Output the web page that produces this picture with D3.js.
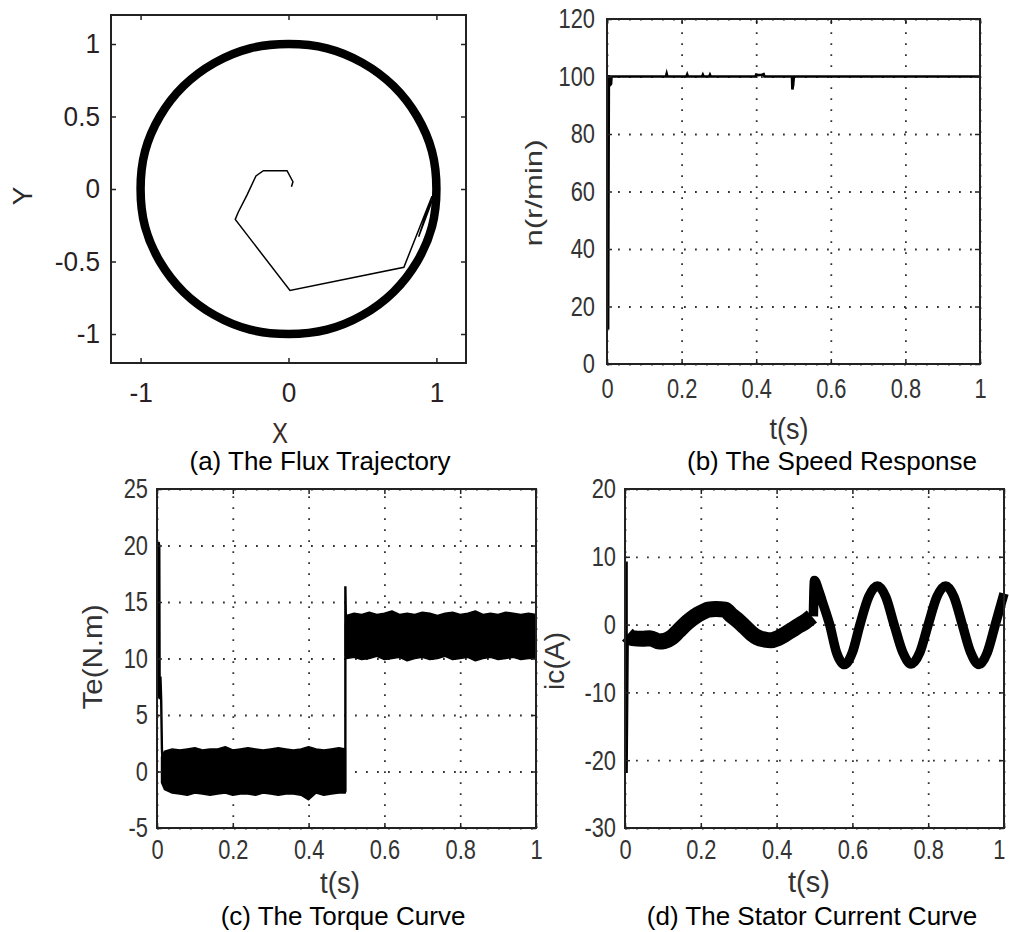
<!DOCTYPE html>
<html>
<head>
<meta charset="utf-8">
<script src="https://cdn.jsdelivr.net/npm/d3@7"></script>
<style>
  body { margin: 0; background: #fff; }
  svg { display: block; background: #fff; }
</style>
</head>
<body>
<svg id="chart"></svg>
<script>
// (a) flux trajectory
const fluxRingX = [1.00, 0.97, 0.87, 0.71, 0.50, 0.26, 0.00, -0.26, -0.50, -0.71, -0.87, -0.97,
                   -1.00, -0.97, -0.87, -0.71, -0.50, -0.26, 0.00, 0.26, 0.50, 0.71, 0.87, 0.97];
const fluxRingY = [0.00, 0.26, 0.50, 0.71, 0.87, 0.97, 1.00, 0.97, 0.87, 0.71, 0.50, 0.26,
                   0.00, -0.26, -0.50, -0.71, -0.87, -0.97, -1.00, -0.97, -0.87, -0.71, -0.50, -0.26];
const fluxStartX = [0.02, 0.03, -0.01, -0.17, -0.22, -0.28, -0.34, -0.36, 0.01, 0.78, 0.97, 0.88, 0.99];
const fluxStartY = [0.016, 0.05, 0.126, 0.126, 0.09, -0.04, -0.16, -0.21, -0.70, -0.54, -0.05, -0.33, -0.03];
const fluxTicksX = [-1, 0, 1];
const fluxTicksY = [-1, -0.5, 0, 0.5, 1];

// (b) speed response
const speedT = [0.003, 0.004, 0.005, 0.006, 0.008, 0.011, 0.012, 0.158, 0.160, 0.162, 0.213, 0.215, 0.217,
                0.255, 0.257, 0.259, 0.274, 0.276, 0.278, 0.398, 0.400, 0.405, 0.415, 0.420, 0.422,
                0.496, 0.497, 0.499, 0.501, 1.0];
const speedN = [12, 60, 100.5, 97, 97, 97.5, 100, 100, 101, 100, 100, 100.7, 100,
                100, 100.6, 100, 100, 100.6, 100, 100, 100.7, 100.5, 100.6, 100.8, 100,
                100, 95.5, 97, 100, 100];
const speedTicksY = [0, 20, 40, 60, 80, 100, 120];

// (c) torque
const teSpikeT = [0.003, 0.004, 0.006, 0.007, 0.009, 0.011, 0.013, 0.016, 0.496, 0.497, 0.497, 0.499, 1.0];
const teSpikeV = [6.5, 20.3, 20, 6.4, 8.4, 6.4, 2, 0, 0, -1.8, 16.4, 12, 12];
const teBandT1 = [0.012, 0.02, 0.04, 0.06, 0.08, 0.1, 0.12, 0.14, 0.16, 0.18, 0.2, 0.22, 0.24,
                  0.26, 0.28, 0.3, 0.32, 0.34, 0.36, 0.38, 0.4, 0.42, 0.44, 0.46, 0.48, 0.497];
const teHi1 = [1.3, 1.8, 2.0, 1.9, 2.0, 2.1, 1.9, 2.0, 2.0, 2.2, 1.9, 2.0, 2.1,
               2.0, 1.9, 2.0, 2.1, 2.0, 1.9, 2.0, 2.2, 2.0, 1.9, 2.0, 2.1, 2.0];
const teLo1 = [-1.0, -1.6, -1.9, -2.0, -2.1, -1.9, -2.0, -2.1, -2.0, -1.9, -2.1, -2.0, -2.0,
               -2.1, -1.9, -2.0, -2.1, -2.0, -2.0, -2.1, -2.5, -1.9, -2.1, -2.0, -1.9, -1.9];
const teBandT2 = [0.497, 0.5, 0.52, 0.54, 0.56, 0.58, 0.6, 0.62, 0.64, 0.66, 0.68, 0.7, 0.72, 0.74,
                  0.76, 0.78, 0.8, 0.82, 0.84, 0.86, 0.88, 0.9, 0.92, 0.94, 0.96, 0.98, 1.0];
const teHi2 = [13.0, 13.8, 14.0, 13.9, 14.1, 13.9, 14.0, 14.2, 13.9, 14.0, 13.9, 14.1, 14.0, 13.8,
               14.0, 14.1, 13.9, 14.0, 14.2, 13.9, 14.0, 13.9, 14.1, 14.0, 13.9, 14.0, 13.9];
const teLo2 = [10.3, 10.0, 10.1, 9.9, 10.0, 10.2, 9.9, 10.0, 10.1, 9.8, 10.0, 10.1, 9.9, 10.0,
               10.2, 9.9, 10.0, 10.1, 9.8, 10.0, 10.1, 9.9, 10.0, 10.1, 9.9, 10.0, 10.0];
const teTicksY = [-5, 0, 5, 10, 15, 20, 25];

// (d) stator current
const icSpikeT = [0.004, 0.004, 0.007];
const icSpikeV = [9.3, -21.9, -1.5];
const icT1 = [0.006, 0.02, 0.045, 0.066, 0.09, 0.105, 0.123, 0.14, 0.158, 0.175, 0.193, 0.21, 0.22, 0.24,
              0.264, 0.28, 0.30, 0.317, 0.334, 0.35, 0.369, 0.385, 0.404, 0.42, 0.44, 0.46, 0.475, 0.493];
const icV1 = [-1.5, -2.0, -2.1, -2.0, -2.5, -2.4, -1.9, -1.0, 0, 0.8, 1.5, 2.0, 2.2, 2.3,
              2.2, 1.4, 0.5, -0.4, -1.3, -1.9, -2.2, -2.3, -2.0, -1.5, -0.8, -0.1, 0.4, 1.2];
const icT2 = [0.497, 0.5, 0.51, 0.52, 0.54, 0.558, 0.579, 0.60, 0.62, 0.643, 0.666, 0.688, 0.71,
              0.733, 0.755, 0.778, 0.80, 0.823, 0.846, 0.868, 0.89, 0.912, 0.934, 0.956, 0.977, 1.0];
const icV2 = [1.2, 6.5, 5.2, 3.5, 0, -4.1, -5.9, -4.1, 0, 4.1, 5.7, 4.1, 0,
              -4.1, -5.8, -4.1, 0, 4.1, 5.7, 4.1, 0, -4.1, -5.9, -4.1, 0, 4.6];
const icTicksY = [-30, -20, -10, 0, 10, 20];

const timeTicks = [0, 0.2, 0.4, 0.6, 0.8, 1];

const plain = "'Liberation Sans', Arial, sans-serif";

// setting up svg
const svg = d3.select("#chart").attr("width", 1009).attr("height", 932);

// squeeze text horizontally, the matlab figures were shrunk sideways
function squeeze(sel, k) {
  sel.each(function () {
    const w = this.getComputedTextLength();
    d3.select(this).attr("textLength", w * k).attr("lengthAdjust", "spacingAndGlyphs");
  });
}

function makePanel(box, xDom, yDom, xTicks, yTicks, opt) {
  const x = d3.scaleLinear().domain(xDom).range([box.x0, box.x1]);
  const y = d3.scaleLinear().domain(yDom).range([box.y1, box.y0]);
  const g = svg.append("g");
  const fmt = d => String(d);

  // dotted grid
  if (opt.grid) {
    const grid = g.append("g");
    grid.append("g").attr("transform", `translate(0,${box.y1})`)
      .call(d3.axisBottom(x).tickValues(xTicks).tickSize(-(box.y1 - box.y0)).tickFormat(""));
    grid.append("g").attr("transform", `translate(${box.x0},0)`)
      .call(d3.axisLeft(y).tickValues(yTicks).tickSize(-(box.x1 - box.x0)).tickFormat(""));
    grid.selectAll(".domain").remove();
    grid.selectAll("line").attr("stroke", "#333").attr("stroke-width", 1.8)
      .attr("stroke-dasharray", "1.8,9.2");
  }

  const plot = g.append("g");

  // axes, ticks pointing in on all four sides
  const left = g.append("g").attr("transform", `translate(${box.x0},0)`)
    .call(d3.axisLeft(y).tickValues(yTicks).tickSize(-5).tickPadding(opt.padY).tickFormat(fmt));
  const bottom = g.append("g").attr("transform", `translate(0,${box.y1})`)
    .call(d3.axisBottom(x).tickValues(xTicks).tickSize(-5).tickPadding(opt.padX).tickFormat(fmt));
  g.append("g").attr("transform", `translate(${box.x1},0)`)
    .call(d3.axisRight(y).tickValues(yTicks).tickSize(-5).tickFormat(""));
  g.append("g").attr("transform", `translate(0,${box.y0})`)
    .call(d3.axisTop(x).tickValues(xTicks).tickSize(-5).tickFormat(""));
  g.selectAll(".domain").remove();
  g.selectAll(".tick line").filter(function () { return !this.getAttribute("stroke-dasharray"); })
    .attr("stroke", "#222").attr("stroke-width", 1.5);
  [left, bottom].forEach(a => {
    a.attr("font-family", plain).attr("font-size", opt.fontSize);
    a.selectAll("text").attr("fill", opt.color).call(squeeze, opt.squeeze);
  });
  if (opt.lastEnd) {
    bottom.selectAll("text").filter(d => d === xTicks[xTicks.length - 1])
      .attr("text-anchor", "end").attr("x", 1);
  }

  g.append("rect")
    .attr("x", box.x0).attr("y", box.y0)
    .attr("width", box.x1 - box.x0).attr("height", box.y1 - box.y0)
    .attr("fill", "none").attr("stroke", "#222").attr("stroke-width", 2);

  return { x, y, g, plot };
}

function label(text, px, py, size, opt) {
  const t = svg.append("text")
    .attr("font-family", plain).attr("font-size", size)
    .attr("fill", (opt && opt.color) || "#333")
    .attr("text-anchor", "middle")
    .attr("transform", `translate(${px},${py})` + (opt && opt.rotate ? " rotate(-90)" : ""))
    .text(text);
  if (opt && opt.len) t.attr("textLength", opt.len).attr("lengthAdjust", "spacingAndGlyphs");
  return t;
}

// (a) The Flux Trajectory
const pa = makePanel({ x0: 111, x1: 466, y0: 15, y1: 363 }, [-1.2, 1.2], [-1.2, 1.2], fluxTicksX, fluxTicksY,
  { grid: false, padX: 20, padY: 11, fontSize: 27, squeeze: 0.97, color: "#2a1f24" });
const ring = fluxRingX.map((v, i) => [v, fluxRingY[i]]);
pa.plot.append("path")
  .attr("d", d3.line().x(d => pa.x(d[0])).y(d => pa.y(d[1])).curve(d3.curveCatmullRomClosed)(ring))
  .attr("fill", "none").attr("stroke", "#000").attr("stroke-width", 8.5);
const start = fluxStartX.map((v, i) => [v, fluxStartY[i]]);
pa.plot.append("path")
  .attr("d", d3.line().x(d => pa.x(d[0])).y(d => pa.y(d[1]))(start))
  .attr("fill", "none").attr("stroke", "#000").attr("stroke-width", 1.5);
label("X", 280, 443, 30, { color: "#3a2a22", len: 16 });
label("Y", 32, 196, 28, { color: "#2a2a2a", rotate: true });
label("(a) The Flux Trajectory", 320, 470, 26, { color: "#000" });

// (b) The Speed Response
const pb = makePanel({ x0: 607, x1: 980, y0: 19, y1: 364 }, [0, 1], [0, 120], timeTicks, speedTicksY,
  { grid: true, padX: 14, padY: 12, fontSize: 28, squeeze: 0.78, color: "#333" });
pb.plot.append("path")
  .datum(speedT.map((t, i) => [t, speedN[i]]))
  .attr("d", d3.line().x(d => pb.x(d[0])).y(d => pb.y(d[1])))
  .attr("fill", "none").attr("stroke", "#000").attr("stroke-width", 2.6);
label("t(s)", 789, 439, 30, { len: 39 });
label("n(r/min)", 542, 193, 24, { rotate: true, len: 107 });
label("(b) The Speed Response", 832, 470, 26, { color: "#000" });

// (c) The Torque Curve
const pc = makePanel({ x0: 157, x1: 536, y0: 489, y1: 828 }, [0, 1], [-5, 25], timeTicks, teTicksY,
  { grid: true, padX: 11, padY: 9, fontSize: 28, squeeze: 0.78, color: "#333" });
const band = (ts, hi, lo) => d3.area().x((d, i) => pc.x(ts[i])).y0((d, i) => pc.y(lo[i])).y1((d, i) => pc.y(hi[i]))(ts);
pc.plot.append("path").attr("d", band(teBandT1, teHi1, teLo1)).attr("fill", "#000")
  .attr("stroke", "#000").attr("stroke-width", 1.5).attr("stroke-linejoin", "round");
pc.plot.append("path").attr("d", band(teBandT2, teHi2, teLo2)).attr("fill", "#000")
  .attr("stroke", "#000").attr("stroke-width", 1.5).attr("stroke-linejoin", "round");
pc.plot.append("path")
  .datum(teSpikeT.map((t, i) => [t, teSpikeV[i]]))
  .attr("d", d3.line().x(d => pc.x(d[0])).y(d => pc.y(d[1])))
  .attr("fill", "none").attr("stroke", "#000").attr("stroke-width", 2.4);
label("t(s)", 340, 893, 30, { len: 40 });
label("Te(N.m)", 102, 657, 28, { rotate: true, len: 105 });
label("(c) The Torque Curve", 343, 925, 26, { color: "#000" });

// (d) The Stator Current Curve
const pd = makePanel({ x0: 625, x1: 1004, y0: 489, y1: 828 }, [0, 1], [-30, 20], timeTicks, icTicksY,
  { grid: true, padX: 11, padY: 9, fontSize: 28, squeeze: 0.78, color: "#333", lastEnd: true });
const curLine = d3.line().x(d => pd.x(d[0])).y(d => pd.y(d[1]));
pd.plot.append("path")
  .attr("d", curLine(icSpikeT.map((t, i) => [t, icSpikeV[i]])))
  .attr("fill", "none").attr("stroke", "#000").attr("stroke-width", 2.6);
pd.plot.append("path")
  .attr("d", curLine.curve(d3.curveMonotoneX)(icT1.map((t, i) => [t, icV1[i]])))
  .attr("fill", "none").attr("stroke", "#000").attr("stroke-width", 16).attr("stroke-linejoin", "round");
pd.plot.append("path")
  .attr("d", curLine.curve(d3.curveMonotoneX)(icT2.map((t, i) => [t, icV2[i]])))
  .attr("fill", "none").attr("stroke", "#000").attr("stroke-width", 9.5).attr("stroke-linejoin", "round");
label("t(s)", 809, 892, 30, { len: 42 });
label("ic(A)", 564, 661, 28, { rotate: true, len: 58 });
label("(d) The Stator Current Curve", 812, 925, 26, { color: "#000" });
</script>
</body>
</html>
